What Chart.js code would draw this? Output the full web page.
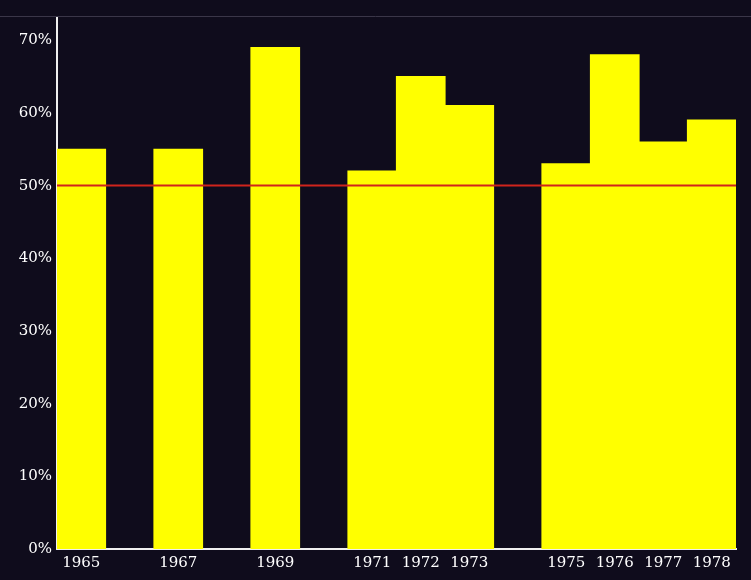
<!DOCTYPE html>
<html>
<head>
<meta charset="utf-8">
<script src="https://cdn.jsdelivr.net/npm/chart.js@4/dist/chart.umd.min.js"></script>
<style>
  html, body { margin: 0; padding: 0; background: #0f0c1c; }
  #wrap { width: 751px; height: 580px; position: relative; }
</style>
</head>
<body>
<div id="wrap"><canvas id="c" width="751" height="580"></canvas></div>
<script>
const years = ['1965','1966','1967','1968','1969','1970','1971','1972','1973','1974','1975','1976','1977','1978'];
const shares = [55, null, 55, null, 69, null, 52, 65, 61, null, 53, 68, 56, 59];
const referenceLine = [50];
const yTicks = [0, 10, 20, 30, 40, 50, 60, 70];

const refLinePlugin = {
  id: 'refLine',
  afterDatasetsDraw(chart) {
    const { ctx, chartArea, scales } = chart;
    ctx.save();
    ctx.strokeStyle = '#d0241c';
    ctx.lineWidth = 2;
    referenceLine.forEach(v => {
      const y = scales.y.getPixelForValue(v);
      ctx.beginPath();
      ctx.moveTo(chartArea.left, y);
      ctx.lineTo(chartArea.right, y);
      ctx.stroke();
    });
    ctx.restore();
  }
};
const topLinePlugin = {
  id: 'topLine',
  afterDraw(chart) {
    const { ctx, chartArea, width } = chart;
    ctx.save();
    ctx.strokeStyle = '#3a3648';
    ctx.lineWidth = 1;
    ctx.beginPath();
    ctx.moveTo(0, chartArea.top - 0.5);
    ctx.lineTo(width, chartArea.top - 0.5);
    ctx.stroke();
    ctx.restore();
  }
};

new Chart(document.getElementById('c'), {
  type: 'bar',
  data: {
    labels: years,
    datasets: [{
      data: shares,
      backgroundColor: '#ffff00',
      borderWidth: 0,
      inflateAmount: 0.6,
      barPercentage: 1,
      categoryPercentage: 1
    }]
  },
  options: {
    responsive: false,
    animation: false,
    layout: { padding: { top: 17, right: 15, left: 0, bottom: 0 } },
    plugins: { legend: { display: false }, tooltip: { enabled: false } },
    scales: {
      x: {
        grid: { display: false, drawTicks: false },
        border: { color: '#f0f0f0', width: 2 },
        ticks: {
          color: '#ffffff',
          font: { family: 'DejaVu Serif', size: 15 },
          padding: 5,
          maxRotation: 0,
          autoSkip: false,
          callback: (v, i) => shares[i] === null ? '' : years[i]
        },
        afterFit: s => { s.height = 31; }
      },
      y: {
        min: 0,
        max: 73.2,
        grid: { display: false, drawTicks: false },
        border: { color: '#f0f0f0', width: 2 },
        afterBuildTicks: s => { s.ticks = yTicks.map(v => ({ value: v })); },
        ticks: {
          color: '#ffffff',
          font: { family: 'DejaVu Serif', size: 15 },
          padding: 5,
          callback: v => v + '%'
        },
        afterFit: s => { s.width = 57; }
      }
    }
  },
  plugins: [refLinePlugin, topLinePlugin]
});
</script>
</body>
</html>
